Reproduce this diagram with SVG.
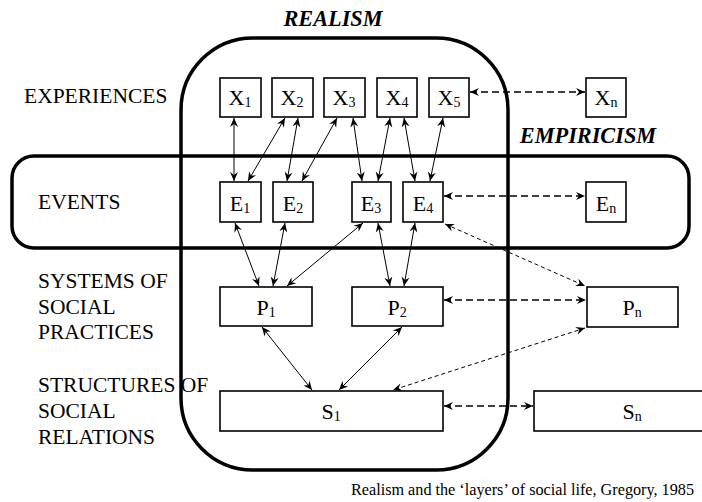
<svg xmlns="http://www.w3.org/2000/svg" width="702" height="502" viewBox="0 0 702 502" font-family="'Liberation Serif', 'Times New Roman', Times, serif">
<style>
text{font-family:'Liberation Serif','Times New Roman',Times,serif;fill:#000}
.lbl{font-size:21.5px}
.nl{font-size:22px;text-anchor:middle}
.sub{font-size:14px}
.ttl{font-size:22.3px;font-weight:bold;font-style:italic;text-anchor:middle}
.box{fill:#fff;stroke:#000;stroke-width:1.6}
.bound{fill:none;stroke:#000;stroke-width:3.5}
.s{fill:none;stroke:#000;stroke-width:1}
.d{fill:none;stroke:#000;stroke-width:1.3;stroke-dasharray:7 4}
.t{fill:none;stroke:#000;stroke-width:1;stroke-dasharray:4 3}
</style>
<defs>
<marker id="ah" markerWidth="12" markerHeight="10" viewBox="-10 -5 12 10" refX="0" refY="0" orient="auto-start-reverse" markerUnits="userSpaceOnUse">
<path d="M0,0 L-9,-4 L-6,0 L-9,4 Z" fill="#000"/>
</marker>
</defs>

<g id="boundaries">
<rect id="realism" class="bound" x="181" y="38" width="327" height="432" rx="72" ry="72"/>
<rect id="empiricism" class="bound" x="12" y="156" width="677" height="92" rx="22" ry="22"/>
</g>

<g id="titles">
<text class="ttl" x="333" y="26">REALISM</text>
<text class="ttl" x="588" y="143">EMPIRICISM</text>
</g>

<g id="row-labels">
<text class="lbl" x="24" y="103">EXPERIENCES</text>
<text class="lbl" x="38" y="209">EVENTS</text>
<text class="lbl" x="38" y="288">SYSTEMS OF</text>
<text class="lbl" x="38" y="314">SOCIAL</text>
<text class="lbl" x="38" y="339">PRACTICES</text>
<text class="lbl" x="38" y="392">STRUCTURES OF</text>
<text class="lbl" x="38" y="418">SOCIAL</text>
<text class="lbl" x="38" y="444">RELATIONS</text>
</g>

<g id="connectors">
<line class="s" x1="234" y1="118" x2="234" y2="181" marker-start="url(#ah)" marker-end="url(#ah)"/>
<line class="s" x1="285" y1="118" x2="248" y2="181" marker-start="url(#ah)" marker-end="url(#ah)"/>
<line class="s" x1="298" y1="118" x2="287" y2="181" marker-start="url(#ah)" marker-end="url(#ah)"/>
<line class="s" x1="337" y1="118" x2="302" y2="181" marker-start="url(#ah)" marker-end="url(#ah)"/>
<line class="s" x1="353" y1="118" x2="362" y2="181" marker-start="url(#ah)" marker-end="url(#ah)"/>
<line class="s" x1="390" y1="118" x2="378" y2="181" marker-start="url(#ah)" marker-end="url(#ah)"/>
<line class="s" x1="404" y1="118" x2="415" y2="181" marker-start="url(#ah)" marker-end="url(#ah)"/>
<line class="s" x1="443" y1="118" x2="430" y2="181" marker-start="url(#ah)" marker-end="url(#ah)"/>
<line class="s" x1="235" y1="223" x2="259" y2="286" marker-start="url(#ah)" marker-end="url(#ah)"/>
<line class="s" x1="285" y1="223" x2="273" y2="286" marker-start="url(#ah)" marker-end="url(#ah)"/>
<line class="s" x1="363" y1="223" x2="287" y2="286" marker-start="url(#ah)" marker-end="url(#ah)"/>
<line class="s" x1="378" y1="223" x2="390" y2="286" marker-start="url(#ah)" marker-end="url(#ah)"/>
<line class="s" x1="415" y1="223" x2="404" y2="286" marker-start="url(#ah)" marker-end="url(#ah)"/>
<line class="s" x1="262" y1="327" x2="312" y2="390" marker-start="url(#ah)" marker-end="url(#ah)"/>
<line class="s" x1="402" y1="327" x2="339" y2="390" marker-start="url(#ah)" marker-end="url(#ah)"/>
<line class="d" x1="470" y1="92" x2="585" y2="92" marker-start="url(#ah)" marker-end="url(#ah)"/>
<line class="d" x1="444" y1="196" x2="585" y2="196" marker-start="url(#ah)" marker-end="url(#ah)"/>
<line class="d" x1="444" y1="300" x2="586" y2="300" marker-start="url(#ah)" marker-end="url(#ah)"/>
<line class="d" x1="444" y1="406" x2="533" y2="406" marker-start="url(#ah)" marker-end="url(#ah)"/>
<line class="t" x1="445" y1="224" x2="585" y2="286" marker-start="url(#ah)" marker-end="url(#ah)"/>
<line class="t" x1="585" y1="328" x2="393" y2="390" marker-start="url(#ah)" marker-end="url(#ah)"/>
</g>

<g id="X1"><rect class="box" x="220" y="78" width="41" height="39"/><text class="nl" x="240" y="105">X<tspan class="sub" dy="2">1</tspan></text></g>
<g id="X2"><rect class="box" x="272" y="78" width="41" height="39"/><text class="nl" x="292" y="105">X<tspan class="sub" dy="2">2</tspan></text></g>
<g id="X3"><rect class="box" x="324" y="78" width="41" height="39"/><text class="nl" x="344" y="105">X<tspan class="sub" dy="2">3</tspan></text></g>
<g id="X4"><rect class="box" x="377" y="78" width="40" height="39"/><text class="nl" x="397" y="105">X<tspan class="sub" dy="2">4</tspan></text></g>
<g id="X5"><rect class="box" x="429" y="78" width="40" height="39"/><text class="nl" x="449" y="105">X<tspan class="sub" dy="2">5</tspan></text></g>
<g id="Xn"><rect class="box" x="586" y="78" width="40" height="39"/><text class="nl" x="606" y="105">X<tspan class="sub" dy="2">n</tspan></text></g>

<g id="E1"><rect class="box" x="220" y="182" width="41" height="40"/><text class="nl" x="240" y="211">E<tspan class="sub" dy="2">1</tspan></text></g>
<g id="E2"><rect class="box" x="273" y="182" width="40" height="40"/><text class="nl" x="293" y="211">E<tspan class="sub" dy="2">2</tspan></text></g>
<g id="E3"><rect class="box" x="352" y="182" width="39" height="40"/><text class="nl" x="371" y="211">E<tspan class="sub" dy="2">3</tspan></text></g>
<g id="E4"><rect class="box" x="403" y="182" width="40" height="40"/><text class="nl" x="423" y="211">E<tspan class="sub" dy="2">4</tspan></text></g>
<g id="En"><rect class="box" x="586" y="182" width="40" height="40"/><text class="nl" x="606" y="211">E<tspan class="sub" dy="2">n</tspan></text></g>

<g id="P1"><rect class="box" x="220" y="287" width="92" height="39"/><text class="nl" x="266" y="315">P<tspan class="sub" dy="2">1</tspan></text></g>
<g id="P2"><rect class="box" x="352" y="287" width="91" height="39"/><text class="nl" x="397" y="315">P<tspan class="sub" dy="2">2</tspan></text></g>
<g id="Pn"><rect class="box" x="587" y="287" width="91" height="40"/><text class="nl" x="632" y="315">P<tspan class="sub" dy="2">n</tspan></text></g>

<g id="S1"><rect class="box" x="220" y="391" width="223" height="40"/><text class="nl" x="331" y="419">S<tspan class="sub" dy="2">1</tspan></text></g>
<g id="Sn"><rect class="box" x="534" y="391" width="180" height="40"/><text class="nl" x="632" y="419">S<tspan class="sub" dy="2">n</tspan></text></g>

<text id="caption" x="351" y="495" style="font-size:16.2px">Realism and the ‘layers’ of social life, Gregory, 1985</text>
</svg>
